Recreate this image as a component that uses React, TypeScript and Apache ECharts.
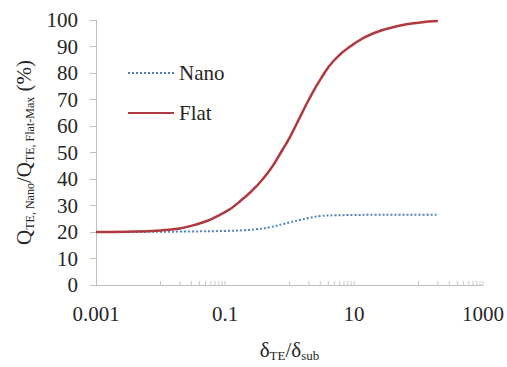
import React, { useEffect, useRef } from "react";
import * as echarts from "echarts";

// x positions (δTE/δsub) and series values (%)
const ratio = [0.001, 0.003, 0.01, 0.03, 0.1, 0.2, 0.3, 0.5, 0.8, 1, 1.5, 2, 3, 5, 10, 20, 50, 100, 200];
const flat = [20, 20.1, 20.6, 22.3, 27.5, 33, 37, 43.5, 51.5, 55.5, 64, 70, 77.5, 85, 91, 95, 97.8, 99, 99.6];
const nano = [20, 20, 20.1, 20.2, 20.4, 20.7, 21, 21.8, 23, 23.6, 24.6, 25.3, 26, 26.3, 26.4, 26.5, 26.5, 26.5, 26.5];

const xTickLabels: Record<string, string> = { "-3": "0.001", "-1": "0.1", "1": "10", "3": "1000" };
const minorDecades = [-2, 0, 2];
const minorMultipliers = [1, 2, 3, 4, 5, 6, 7, 8, 9, 10];

const FONT = "Times New Roman, Liberation Serif, DejaVu Serif, serif";
const TEXT = "#262626";
const AXIS = "#bfbfbf";

const serif = (size: number, extra: any = {}) => ({ fontFamily: FONT, fontSize: size, color: TEXT, ...extra });

export default function App() {
  const ref = useRef<HTMLDivElement>(null);
  useEffect(() => {
    if (!ref.current) return;
    const chart = echarts.init(ref.current, null, { renderer: "svg" });
    const toPairs = (vals: number[]) => ratio.map((r, i) => [Math.log10(r), vals[i]]);
    const minorTicks: number[][] = [];
    minorDecades.forEach((d) => minorMultipliers.forEach((k) => minorTicks.push([Math.log10(k) + d, 0])));

    chart.setOption({
      animation: false,
      textStyle: { fontFamily: FONT, color: TEXT },
      grid: { left: 96, right: 24, top: 20, bottom: 82 },
      legend: {
        orient: "vertical",
        left: 122,
        top: 57,
        itemWidth: 46,
        itemHeight: 14,
        itemGap: 18,
        data: ["Nano", "Flat"],
        itemStyle: { opacity: 0 },
        textStyle: serif(21, { lineHeight: 22 }),
      },
      xAxis: {
        type: "value",
        min: -3,
        max: 3,
        interval: 1,
        axisLine: { show: true, onZero: false, lineStyle: { color: AXIS, width: 1 } },
        axisTick: { show: false },
        splitLine: { show: false },
        axisLabel: {
          ...serif(21),
          margin: 18,
          formatter: (v: number) => xTickLabels[String(Math.round(v))] || "",
        },
        name: "{a|δ}{s|TE}{a|/δ}{s|sub}",
        nameLocation: "middle",
        nameGap: 52,
        nameTextStyle: {
          rich: {
            a: serif(21, { lineHeight: 24 }),
            s: serif(13, { padding: [12, 0, 0, 0] }),
          },
        },
      },
      yAxis: {
        type: "value",
        min: 0,
        max: 100,
        interval: 10,
        axisLine: { show: true, onZero: false, lineStyle: { color: AXIS, width: 1 } },
        axisTick: { show: true, inside: false, length: 6, lineStyle: { color: AXIS } },
        splitLine: { show: false },
        axisLabel: { ...serif(21), margin: 18 },
        name: "{a|Q}{s|TE, Nano}{a|/Q}{s|TE, Flat-Max}{a| (%)}",
        nameLocation: "middle",
        nameRotate: 90,
        nameGap: 60,
        nameTextStyle: {
          rich: {
            a: serif(21, { lineHeight: 24 }),
            s: serif(12, { padding: [12, 0, 0, 0] }),
          },
        },
      },
      series: [
        {
          name: "Nano",
          type: "line",
          data: toPairs(nano),
          smooth: true,
          symbol: "none",
          lineStyle: { color: "#4F81BD", width: 2, type: [2, 2] },
          itemStyle: { color: "#4F81BD" },
        },
        {
          name: "Flat",
          type: "line",
          data: toPairs(flat),
          smooth: true,
          symbol: "none",
          lineStyle: { color: "#B0393F", width: 2.5 },
          itemStyle: { color: "#B0393F" },
        },
        {
          name: "minorTicks",
          type: "custom",
          silent: true,
          clip: false,
          data: minorTicks,
          renderItem: (_p: any, api: any) => {
            const pt = api.coord([api.value(0), 0]);
            return {
              type: "line",
              shape: { x1: pt[0], y1: pt[1], x2: pt[0], y2: pt[1] - 4 },
              style: { stroke: "#c8c8c8", lineWidth: 1 },
            };
          },
        },
      ],
    });
    return () => chart.dispose();
  }, []);
  return <div ref={ref} style={{ width: 507, height: 367, position: "absolute", left: 0, top: 0 }} />;
}
